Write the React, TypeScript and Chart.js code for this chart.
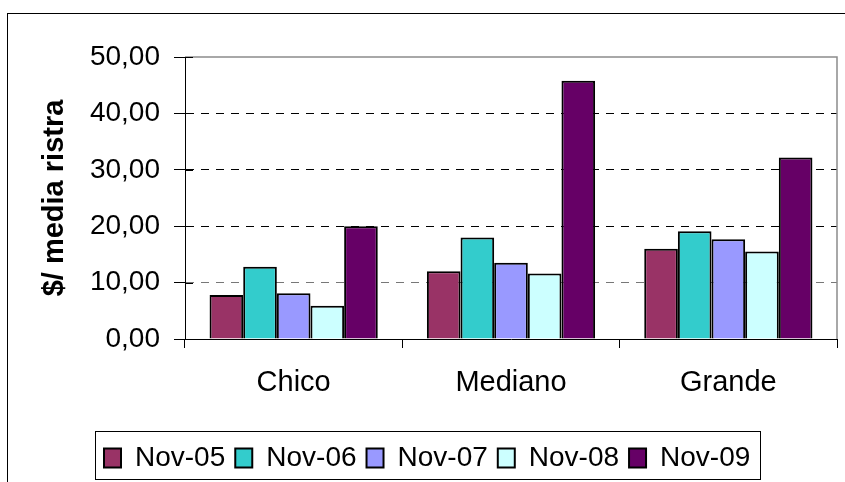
import React, { useEffect, useRef } from 'react';
import { Chart, registerables } from 'chart.js';

Chart.register(...registerables);

const categories = ['Chico', 'Mediano', 'Grande'];
const seriesNames = ['Nov-05', 'Nov-06', 'Nov-07', 'Nov-08', 'Nov-09'];
const nov05 = [7.8, 12.0, 16.0];
const nov06 = [12.8, 18.0, 19.1];
const nov07 = [8.1, 13.5, 17.7];
const nov08 = [5.9, 11.6, 15.5];
const nov09 = [20.0, 45.8, 32.2];
const seriesColors = ['#993366', '#33CCCC', '#9999FF', '#CCFFFF', '#660066'];
const yTicks = [0, 10, 20, 30, 40, 50];
const yTickLabels = ['0,00', '10,00', '20,00', '30,00', '40,00', '50,00'];
const yTitle = '$/ media ristra';

const FONT = "'Liberation Sans', Arial, sans-serif";

const framePlugin = {
  id: 'frame',
  afterLayout(chart: any) {
    const lg = chart.legend;
    if (!lg || !lg.lineWidths) return;
    const pad = lg.options.labels.padding;
    const start = (lg.left + pad + lg.right - lg.lineWidths[0]) / 2;
    const shift = 104 - start;
    lg.left += shift;
    lg.right += shift;
  },
  afterDraw(chart: any) {
    const ctx = chart.ctx;
    const { left, right, top, bottom } = chart.chartArea;
    ctx.save();
    // outer frame
    ctx.strokeStyle = '#000';
    ctx.lineWidth = 1;
    ctx.strokeRect(7.5, 13.5, 900, 600);
    // plot area top/right border
    ctx.strokeStyle = '#8c8c8c';
    ctx.lineWidth = 1.5;
    ctx.beginPath();
    ctx.moveTo(left, top);
    ctx.lineTo(right, top);
    ctx.lineTo(right, bottom);
    ctx.stroke();
    // inner part of cross ticks on y axis
    const ys = chart.scales.y;
    ctx.strokeStyle = '#000';
    ctx.lineWidth = 1;
    ys.ticks.forEach((t: any) => {
      const py = Math.round(ys.getPixelForValue(t.value)) + 0.5;
      ctx.beginPath();
      ctx.moveTo(left, py);
      ctx.lineTo(left + 8, py);
      ctx.stroke();
    });
    // legend border
    const lg = chart.legend;
    if (lg && lg.lineWidths) {
      const pad = lg.options.labels.padding;
      const start = (lg.left + pad + lg.right - lg.lineWidths[0]) / 2;
      const end = start + lg.lineWidths[0] - pad;
      const x0 = Math.round(start - 9) + 0.5;
      const x1 = Math.round(end + 10) + 0.5;
      ctx.strokeStyle = '#000';
      ctx.lineWidth = 1;
      ctx.strokeRect(x0, 431.5, x1 - x0, 48);
    }
    ctx.restore();
  },
};

export default function App() {
  const ref = useRef<HTMLCanvasElement | null>(null);

  useEffect(() => {
    document.body.style.margin = '0';
    const canvas = ref.current;
    if (!canvas) return;
    const values = [nov05, nov06, nov07, nov08, nov09];
    const chart = new Chart(canvas, {
      type: 'bar',
      data: {
        labels: categories,
        datasets: seriesNames.map((name, i) => ({
          label: name,
          data: values[i],
          backgroundColor: seriesColors[i],
          borderColor: '#000',
          borderWidth: 2,
          categoryPercentage: 0.774,
          barPercentage: 1,
        })),
      },
      options: {
        responsive: false,
        animation: false,
        devicePixelRatio: 1,
        layout: { padding: { left: 0, top: 57, right: 8, bottom: 0 } },
        plugins: {
          tooltip: { enabled: false },
          legend: {
            position: 'bottom',
            labels: {
              font: { family: FONT, size: 28 },
              color: '#000',
              boxWidth: 17,
              boxHeight: 19,
              padding: 10,
            },
          },
        },
        scales: {
          x: {
            offset: true,
            grid: {
              offset: true,
              drawOnChartArea: false,
              drawTicks: true,
              tickLength: 9,
              color: '#000',
              tickColor: '#000',
              lineWidth: 1,
            },
            border: { color: '#000', width: 1 },
            ticks: {
              font: { family: FONT, size: 29 },
              color: '#000',
              padding: 18,
              maxRotation: 0,
              autoSkip: false,
            },
            afterFit: (s: any) => {
              s.height = 95;
            },
          },
          y: {
            min: 0,
            max: 50,
            afterBuildTicks: (s: any) => {
              s.ticks = yTicks.map((v) => ({ value: v }));
            },
            grid: {
              color: (c: any) => {
                if (!c.tick) return '#000';
                if (c.tick.value === 0 || c.tick.value === 50) return 'rgba(0,0,0,0)';
                if (c.tick.value === 10) return '#777';
                return '#000';
              },
              tickColor: '#000',
              tickLength: 11,
              lineWidth: 1,
              tickBorderDash: [],
            },
            border: { color: '#000', width: 1, dash: [8, 7] },
            ticks: {
              font: { family: FONT, size: 28 },
              color: '#000',
              padding: 14,
              callback: (v: any) => {
                const i = yTicks.indexOf(Number(v));
                return i >= 0 ? yTickLabels[i] : '';
              },
            },
            title: {
              display: true,
              text: yTitle,
              color: '#000',
              font: { family: FONT, size: 29, weight: 'bold' },
              padding: { top: 38, bottom: 0 },
            },
            afterFit: (s: any) => {
              s.width = 185;
            },
          },
        },
      },
      plugins: [framePlugin],
    });
    return () => chart.destroy();
  }, []);

  return (
    <div style={{ width: 845, height: 482 }}>
      <canvas ref={ref} width={845} height={482} style={{ display: 'block' }} />
    </div>
  );
}
